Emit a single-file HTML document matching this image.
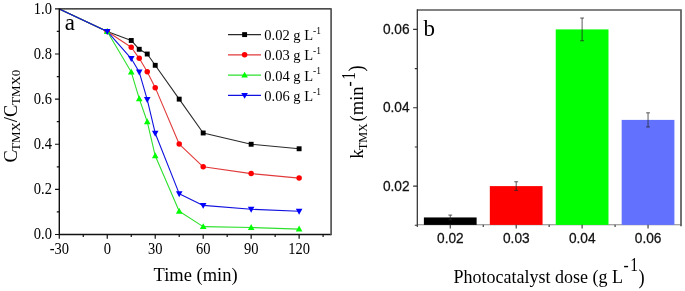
<!DOCTYPE html>
<html><head><meta charset="utf-8"><title>Photocatalytic degradation of TMX</title><style>html,body{margin:0;padding:0;background:#fff;width:685px;height:291px;overflow:hidden;}svg{display:block;}.se{font-family:"Liberation Serif",serif;}.sa{font-family:"Liberation Sans",sans-serif;}</style></head><body>
<svg width="685" height="291" viewBox="0 0 685 291">
<rect width="685" height="291" fill="#fff"/>
<g id="plot-a">
<polyline points="59.30,8.90 107.26,31.46 131.25,40.48 139.24,49.28 147.24,54.02 155.23,65.30 179.21,99.14 203.19,132.98 251.16,144.26 299.12,148.77" fill="none" stroke="#2a2a2a" stroke-width="1.1" stroke-linejoin="round"/>
<polyline points="59.30,8.90 107.26,31.46 131.25,47.25 139.24,58.31 147.24,71.84 155.23,87.63 179.21,144.03 203.19,166.82 251.16,173.59 299.12,178.10" fill="none" stroke="#e23a3a" stroke-width="1.1" stroke-linejoin="round"/>
<polyline points="59.30,8.90 107.26,31.46 131.25,72.07 139.24,98.69 147.24,121.70 155.23,155.77 179.21,211.26 203.19,226.60 251.16,227.51 299.12,229.09" fill="none" stroke="#2ee02e" stroke-width="1.1" stroke-linejoin="round"/>
<polyline points="59.30,8.90 107.26,31.46 131.25,58.53 139.24,72.07 147.24,99.59 155.23,133.21 179.21,193.67 203.19,205.40 251.16,209.23 299.12,211.26" fill="none" stroke="#1010e0" stroke-width="1.1" stroke-linejoin="round"/>
<rect x="104.81" y="29.01" width="4.90" height="4.90" fill="#000000"/>
<rect x="128.80" y="38.03" width="4.90" height="4.90" fill="#000000"/>
<rect x="136.79" y="46.83" width="4.90" height="4.90" fill="#000000"/>
<rect x="144.79" y="51.57" width="4.90" height="4.90" fill="#000000"/>
<rect x="152.78" y="62.85" width="4.90" height="4.90" fill="#000000"/>
<rect x="176.76" y="96.69" width="4.90" height="4.90" fill="#000000"/>
<rect x="200.74" y="130.53" width="4.90" height="4.90" fill="#000000"/>
<rect x="248.71" y="141.81" width="4.90" height="4.90" fill="#000000"/>
<rect x="296.67" y="146.32" width="4.90" height="4.90" fill="#000000"/>
<circle cx="107.26" cy="31.46" r="2.75" fill="#ff0000"/>
<circle cx="131.25" cy="47.25" r="2.75" fill="#ff0000"/>
<circle cx="139.24" cy="58.31" r="2.75" fill="#ff0000"/>
<circle cx="147.24" cy="71.84" r="2.75" fill="#ff0000"/>
<circle cx="155.23" cy="87.63" r="2.75" fill="#ff0000"/>
<circle cx="179.21" cy="144.03" r="2.75" fill="#ff0000"/>
<circle cx="203.19" cy="166.82" r="2.75" fill="#ff0000"/>
<circle cx="251.16" cy="173.59" r="2.75" fill="#ff0000"/>
<circle cx="299.12" cy="178.10" r="2.75" fill="#ff0000"/>
<polygon points="107.26,28.00 110.56,33.94 103.96,33.94" fill="#00ff00"/>
<polygon points="131.25,68.60 134.55,74.54 127.95,74.54" fill="#00ff00"/>
<polygon points="139.24,95.22 142.54,101.16 135.94,101.16" fill="#00ff00"/>
<polygon points="147.24,118.23 150.54,124.17 143.94,124.17" fill="#00ff00"/>
<polygon points="155.23,152.30 158.53,158.24 151.93,158.24" fill="#00ff00"/>
<polygon points="179.21,207.80 182.51,213.74 175.91,213.74" fill="#00ff00"/>
<polygon points="203.19,223.14 206.49,229.08 199.89,229.08" fill="#00ff00"/>
<polygon points="251.16,224.04 254.46,229.98 247.86,229.98" fill="#00ff00"/>
<polygon points="299.12,225.62 302.42,231.56 295.82,231.56" fill="#00ff00"/>
<polygon points="107.26,34.93 110.56,28.99 103.96,28.99" fill="#0000ff"/>
<polygon points="131.25,62.00 134.55,56.06 127.95,56.06" fill="#0000ff"/>
<polygon points="139.24,75.53 142.54,69.59 135.94,69.59" fill="#0000ff"/>
<polygon points="147.24,103.06 150.54,97.12 143.94,97.12" fill="#0000ff"/>
<polygon points="155.23,136.67 158.53,130.73 151.93,130.73" fill="#0000ff"/>
<polygon points="179.21,197.13 182.51,191.19 175.91,191.19" fill="#0000ff"/>
<polygon points="203.19,208.86 206.49,202.92 199.89,202.92" fill="#0000ff"/>
<polygon points="251.16,212.70 254.46,206.76 247.86,206.76" fill="#0000ff"/>
<polygon points="299.12,214.73 302.42,208.79 295.82,208.79" fill="#0000ff"/>
<path d="M331.1,8.9 H59.3 V234.5 H331.1" fill="none" stroke="#111" stroke-width="1.4"/>
<path d="M331.1,8.200000000000001 V235.2" fill="none" stroke="#555" stroke-width="1.7"/>
<path d="M59.30,234.5 v4.3 M107.26,234.5 v4.3 M155.23,234.5 v4.3 M203.19,234.5 v4.3 M251.16,234.5 v4.3 M299.12,234.5 v4.3 M83.28,234.5 v2.5 M131.25,234.5 v2.5 M179.21,234.5 v2.5 M227.18,234.5 v2.5 M275.14,234.5 v2.5 M323.11,234.5 v2.5 M59.3,234.50 h-4.3 M59.3,189.38 h-4.3 M59.3,144.26 h-4.3 M59.3,99.14 h-4.3 M59.3,54.02 h-4.3 M59.3,8.90 h-4.3 M59.3,211.94 h-2.5 M59.3,166.82 h-2.5 M59.3,121.70 h-2.5 M59.3,76.58 h-2.5 M59.3,31.46 h-2.5" stroke="#111" stroke-width="1.2" fill="none"/>
<text class="se" transform="translate(59.30,253.6) scale(1,1.1)" font-size="14.5" text-anchor="middle">-30</text>
<text class="se" transform="translate(107.26,253.6) scale(1,1.1)" font-size="14.5" text-anchor="middle">0</text>
<text class="se" transform="translate(155.23,253.6) scale(1,1.1)" font-size="14.5" text-anchor="middle">30</text>
<text class="se" transform="translate(203.19,253.6) scale(1,1.1)" font-size="14.5" text-anchor="middle">60</text>
<text class="se" transform="translate(251.16,253.6) scale(1,1.1)" font-size="14.5" text-anchor="middle">90</text>
<text class="se" transform="translate(299.12,253.6) scale(1,1.1)" font-size="14.5" text-anchor="middle">120</text>
<text class="se" transform="translate(51.9,239.40) scale(1,1.1)" font-size="14.5" text-anchor="end">0.0</text>
<text class="se" transform="translate(51.9,194.28) scale(1,1.1)" font-size="14.5" text-anchor="end">0.2</text>
<text class="se" transform="translate(51.9,149.16) scale(1,1.1)" font-size="14.5" text-anchor="end">0.4</text>
<text class="se" transform="translate(51.9,104.04) scale(1,1.1)" font-size="14.5" text-anchor="end">0.6</text>
<text class="se" transform="translate(51.9,58.92) scale(1,1.1)" font-size="14.5" text-anchor="end">0.8</text>
<text class="se" transform="translate(51.9,13.80) scale(1,1.1)" font-size="14.5" text-anchor="end">1.0</text>
<text class="se" transform="translate(153.5,281.2) scale(1,1.03)" font-size="18.5">Time (min)</text>
<text class="se" transform="translate(16.6,162.6) rotate(-90) scale(1,1.03)" font-size="18.5">C<tspan font-size="13.0" dx="-0.8" dy="3.4">TMX</tspan><tspan dy="-3.4">/C</tspan><tspan font-size="13.0" dx="-0.3" dy="3.4">TMX0</tspan></text>
<text class="se" x="64.8" y="30.4" font-size="23">a</text>
<line x1="228" y1="34.60" x2="261" y2="34.60" stroke="#2a2a2a" stroke-width="1.1"/>
<rect x="242.15" y="32.15" width="4.90" height="4.90" fill="#000000"/>
<text class="se" transform="translate(264.3,40.00) scale(1,1.04)" font-size="14.5">0.02 g L<tspan font-size="9.5" dy="-5.8">-1</tspan></text>
<line x1="228" y1="54.85" x2="261" y2="54.85" stroke="#e23a3a" stroke-width="1.1"/>
<circle cx="244.60" cy="54.85" r="2.75" fill="#ff0000"/>
<text class="se" transform="translate(264.3,60.25) scale(1,1.04)" font-size="14.5">0.03 g L<tspan font-size="9.5" dy="-5.8">-1</tspan></text>
<line x1="228" y1="75.10" x2="261" y2="75.10" stroke="#2ee02e" stroke-width="1.1"/>
<polygon points="244.60,71.63 247.90,77.57 241.30,77.57" fill="#00ff00"/>
<text class="se" transform="translate(264.3,80.50) scale(1,1.04)" font-size="14.5">0.04 g L<tspan font-size="9.5" dy="-5.8">-1</tspan></text>
<line x1="228" y1="95.35" x2="261" y2="95.35" stroke="#1010e0" stroke-width="1.1"/>
<polygon points="244.60,98.81 247.90,92.88 241.30,92.88" fill="#0000ff"/>
<text class="se" transform="translate(264.3,100.75) scale(1,1.04)" font-size="14.5">0.06 g L<tspan font-size="9.5" dy="-5.8">-1</tspan></text>
</g>
<g id="plot-b">
<path d="M417.3,224.7 H681.0" fill="none" stroke="#888" stroke-width="1.1"/>
<rect x="423.89" y="217.44" width="52.74" height="7.46" fill="#000000"/>
<rect x="489.82" y="186.10" width="52.74" height="38.80" fill="#ff0000"/>
<rect x="555.74" y="29.40" width="52.74" height="195.50" fill="#00ff00"/>
<rect x="621.67" y="119.89" width="52.74" height="105.01" fill="#6272ff"/>
<path d="M448.36,215.09 h3.8 M450.26,215.09 V219.79 M448.36,219.79 h3.8" stroke="#262626" stroke-width="0.75" fill="none"/>
<path d="M514.29,181.79 h3.8 M516.19,181.79 V190.41 M514.29,190.41 h3.8" stroke="#262626" stroke-width="0.75" fill="none"/>
<path d="M580.21,18.04 h3.8 M582.11,18.04 V40.76 M580.21,40.76 h3.8" stroke="#262626" stroke-width="0.75" fill="none"/>
<path d="M646.14,112.84 h3.8 M648.04,112.84 V126.95 M646.14,126.95 h3.8" stroke="#262626" stroke-width="0.75" fill="none"/>
<path d="M417.3,10.0 H681.0 V226.29999999999998" fill="none" stroke="#5a5a5a" stroke-width="1.7"/>
<path d="M417.3,9.2 V225.2" fill="none" stroke="#2a2a2a" stroke-width="1.2"/>
<path d="M450.26,224.7 v3.8 M516.19,224.7 v3.8 M582.11,224.7 v3.8 M648.04,224.7 v3.8 M417.30,224.7 v2.4 M483.23,224.7 v2.4 M549.15,224.7 v2.4 M615.08,224.7 v2.4 M417.3,186.10 h-4.2 M417.3,107.75 h-4.2 M417.3,29.40 h-4.2 M417.3,225.27 h-2.5 M417.3,146.93 h-2.5 M417.3,68.58 h-2.5" stroke="#333" stroke-width="1.1" fill="none"/>
<text class="sa" transform="translate(450.36,242.7) scale(1,1.06)" font-size="13.7" text-anchor="middle" fill="#111" stroke="#111" stroke-width="0.25">0.02</text>
<text class="sa" transform="translate(516.29,242.7) scale(1,1.06)" font-size="13.7" text-anchor="middle" fill="#111" stroke="#111" stroke-width="0.25">0.03</text>
<text class="sa" transform="translate(582.21,242.7) scale(1,1.06)" font-size="13.7" text-anchor="middle" fill="#111" stroke="#111" stroke-width="0.25">0.04</text>
<text class="sa" transform="translate(648.14,242.7) scale(1,1.06)" font-size="13.7" text-anchor="middle" fill="#111" stroke="#111" stroke-width="0.25">0.06</text>
<text class="sa" transform="translate(409.6,190.50) scale(1,1.06)" font-size="13.7" text-anchor="end" fill="#111" stroke="#111" stroke-width="0.25">0.02</text>
<text class="sa" transform="translate(409.6,112.15) scale(1,1.06)" font-size="13.7" text-anchor="end" fill="#111" stroke="#111" stroke-width="0.25">0.04</text>
<text class="sa" transform="translate(409.6,33.80) scale(1,1.06)" font-size="13.7" text-anchor="end" fill="#111" stroke="#111" stroke-width="0.25">0.06</text>
<text class="se" transform="translate(453.5,282.9) scale(1,1.05)" font-size="18" textLength="169.4" lengthAdjust="spacing">Photocatalyst dose (g L</text>
<text class="se" transform="translate(623.6,270.6) scale(1,1.2)" font-size="15.5">-<tspan dx="1.4">1</tspan></text>
<text class="se" transform="translate(638.4,283.6) scale(1,1.1)" font-size="18.5">)</text>
<text class="se" transform="translate(363.2,158.6) rotate(-90)" font-size="18.5">k<tspan font-size="12.1" dx="-0.7" dy="3.4">TMX</tspan><tspan dx="1.8" dy="-3.4">(min</tspan></text>
<text class="se" transform="translate(355.4,87.0) rotate(-90) scale(1,1.15)" font-size="15.5"><tspan dx="0.4">-</tspan><tspan dx="1.6">1</tspan></text>
<text class="se" transform="translate(363.1,71.4) rotate(-90) scale(1,1.08)" font-size="18.5">)</text>
<text class="se" x="423.6" y="36.1" font-size="23">b</text>
</g>
</svg></body></html>
